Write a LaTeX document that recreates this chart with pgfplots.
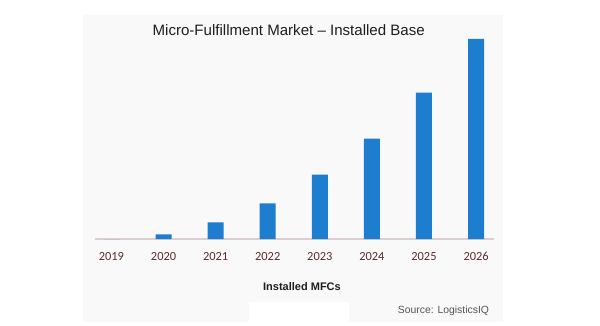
\documentclass[border=0pt]{standalone}
\usepackage{fontspec}
\setmainfont{Liberation Sans}
\newfontfamily\carlito{Carlito}
\usepackage{pgfplots}
\pgfplotsset{compat=1.18}
\definecolor{barblue}{HTML}{1D7ED0}
\definecolor{baseline}{HTML}{DCCFCF}
\definecolor{ticklab}{HTML}{5A2D2D}
\definecolor{panel}{HTML}{F9F9F9}
\definecolor{titlecol}{HTML}{1E1E1E}
\definecolor{srccol}{HTML}{555555}
\begin{document}
\begin{tikzpicture}[x=0.75pt,y=0.75pt]
\useasboundingbox (0,0) rectangle (600,325);
\fill[white] (0,0) rectangle (600,325);
\fill[panel] (83,3) rectangle (503,310);
\fill[white] (249,3) rectangle (349,23);
\begin{axis}[
  at={(71.475pt,64.5pt)}, anchor=south west,
  scale only axis, width=299.25pt, height=150pt,
  xmin=-0.31, xmax=7.35, ymin=0, ymax=200,
  axis x line*=bottom, hide y axis,
  x axis line style={draw=baseline, line width=1.2pt, -},
  xtick={0,...,7},
  xticklabels={2019,2020,2021,2022,2023,2024,2025,2026},
  major tick length=0pt,
  xticklabel style={font=\carlito\fontsize{9.3}{11}\selectfont, text=ticklab, anchor=base, yshift=-15.75pt},
  title={Micro-Fulfillment Market – Installed Base},
  title style={font=\fontsize{11.3}{13}\selectfont, text=titlecol, at={(0.4847,1)}, anchor=center, yshift=0.75pt},
  xlabel={\bfseries Installed MFCs},
  xlabel style={font=\fontsize{8.25}{10}\selectfont, text=titlecol, at={(0.518,0)}, anchor=center, yshift=-35.8pt},
  clip=false,
]
\addplot[ybar, bar width=12pt, fill=barblue, draw=none] coordinates {
  (0,0) (1,4.7) (2,16.7) (3,35.7) (4,64.3) (5,100.3) (6,146.3) (7,200)
};
\node[anchor=east, font=\fontsize{7.8}{9}\selectfont, text=srccol] at (axis description cs:0.9985,-0.357) {Source: LogisticsIQ};
\end{axis}
\end{tikzpicture}
\end{document}
